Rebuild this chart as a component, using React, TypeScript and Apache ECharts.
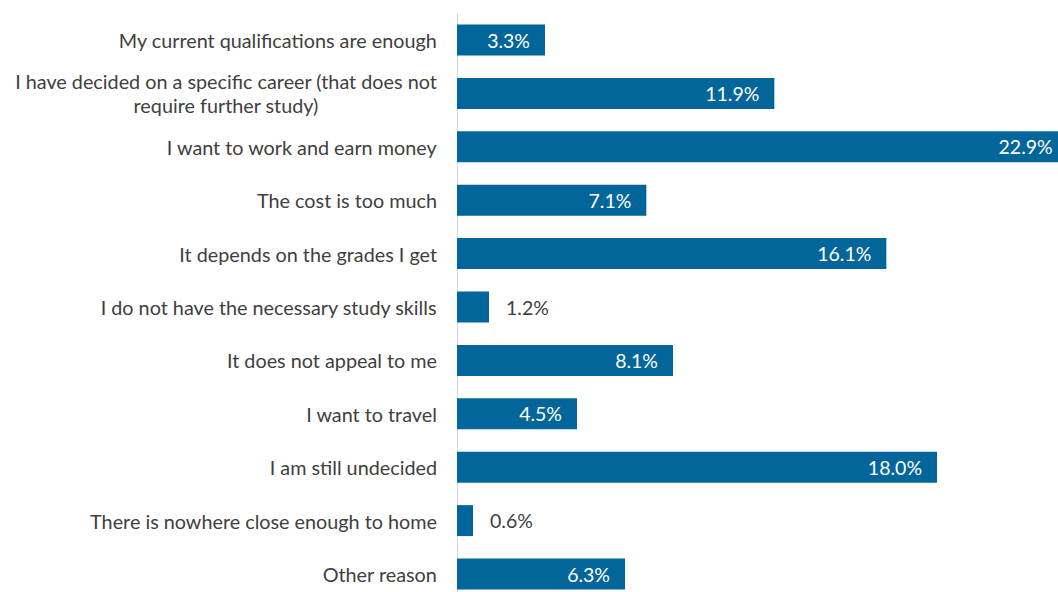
import React, { useEffect, useRef } from 'react';
import * as echarts from 'echarts';

const categories: string[] = [
  'My current qualifications are enough',
  'I have decided on a specific career (that does not\nrequire further study)',
  'I want to work and earn money',
  'The cost is too much',
  'It depends on the grades I get',
  'I do not have the necessary study skills',
  'It does not appeal to me',
  'I want to travel',
  'I am still undecided',
  'There is nowhere close enough to home',
  'Other reason',
];
const values: number[] = [3.3, 11.9, 22.9, 7.1, 16.1, 1.2, 8.1, 4.5, 18.0, 0.6, 6.3];
const labelOutside: boolean[] = [false, false, false, false, false, true, false, false, false, true, false];

const FONT = 'Lato';
const BAR = '#02669b';
const TEXT = '#404040';

export default function App() {
  const ref = useRef<HTMLDivElement>(null);
  useEffect(() => {
    if (!ref.current) return;
    const chart = echarts.init(ref.current, null, { renderer: 'svg' });
    chart.setOption({
      animation: false,
      backgroundColor: '#ffffff',
      grid: { left: 457, top: 13.3, width: 666.7, height: 587.4 },
      xAxis: { type: 'value', min: 0, max: 25, show: false },
      yAxis: {
        type: 'category',
        inverse: true,
        data: categories,
        axisLine: { show: true, lineStyle: { color: '#d9d9d9', width: 1 } },
        axisTick: { show: false },
        splitLine: { show: false },
        axisLabel: {
          margin: 20,
          formatter: (v: string) => v.split('\n').map((l) => `{c|${l}}`).join('\n'),
          rich: {
            c: { align: 'center', fontFamily: FONT, fontSize: 19.8, color: TEXT, lineHeight: 24 },
          },
        },
      },
      series: [
        {
          type: 'bar',
          barCategoryGap: '42%',
          data: values.map((v, i) => ({
            value: v,
            label: labelOutside[i]
              ? { position: 'right', distance: 17, color: TEXT }
              : { position: 'insideRight', distance: 15, color: '#ffffff' },
          })),
          itemStyle: { color: BAR },
          label: {
            show: true,
            fontFamily: FONT,
            fontSize: 19.5,
            formatter: (p: any) => `${Number(p.value).toFixed(1)}%`,
          },
        },
      ],
    });
    return () => chart.dispose();
  }, []);
  return (
    <div style={{ position: 'fixed', left: 0, top: 0, width: 1058, height: 592, overflow: 'hidden', background: '#fff' }}>
      <div ref={ref} style={{ width: 1200, height: 620 }} />
    </div>
  );
}
